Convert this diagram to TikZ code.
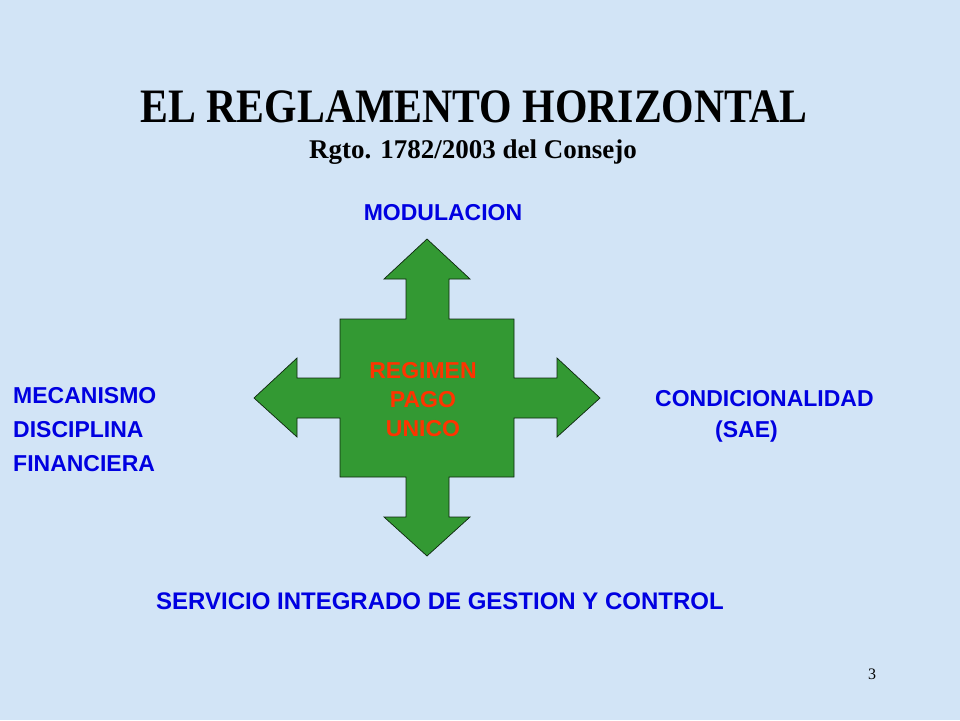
\documentclass[tikz,border=0pt]{standalone}
\usepackage{fontspec}
\setmainfont{Liberation Serif}
\setsansfont{Liberation Sans}
\definecolor{slidebg}{RGB}{210,228,246}
\definecolor{crossgreen}{RGB}{51,153,51}
\definecolor{pagored}{RGB}{255,51,0}
\definecolor{labelblue}{RGB}{0,0,225}
\begin{document}
\begin{tikzpicture}[x=1pt,y=-1pt]

        \fill[slidebg] (0,0) rectangle (960,720);
        \useasboundingbox (0,0) rectangle (960,720);

        % four way arrow
        \draw[fill=crossgreen, draw=black!75!crossgreen, line width=.7pt]
          (427,239) -- (470,279) -- (449,279) -- (449,319) -- (514,319) -- (514,378)
          -- (557,378) -- (557,358) -- (600,398) -- (557,437) -- (557,418) -- (514,418)
          -- (514,477) -- (449,477) -- (449,517) -- (470,517) -- (427,556) -- (384,517)
          -- (406,517) -- (406,477) -- (340,477) -- (340,418) -- (297,418) -- (297,437)
          -- (254,398) -- (297,358) -- (297,378) -- (340,378) -- (340,319) -- (406,319)
          -- (406,279) -- (384,279) -- cycle;

        \begin{scope}[every node/.style={inner sep=0pt, font=\bfseries}]
          \node (title) [anchor=base, font=\fontsize{48}{48}\selectfont\bfseries] at (474,122)
            {\scalebox{.87}[1]{EL REGLAMENTO HORIZONTAL}};
          \node (sub)   [anchor=base, font=\fontsize{27}{27}\selectfont\bfseries] at (473,158)
            {Rgto. 1782/2003 del Consejo};
          \node (page)  [anchor=base, font=\fontsize{16}{16}\selectfont] at (872,679) {3};
        \end{scope}

        \node (rpu) [anchor=north, inner sep=0pt, align=center, text=pagored,
          font=\sffamily\bfseries\fontsize{23}{29}\selectfont] at (423,362)
          {REGIMEN\\PAGO\\UNICO};

        \begin{scope}[every node/.style={inner sep=0pt, text=labelblue,
            font=\sffamily\bfseries\fontsize{23}{34}\selectfont}]
          \node (mod)  [anchor=base] at (443,220) {MODULACION};
          \node (mdf)  [anchor=north west, align=left] at (13,387)
            {MECANISMO\\DISCIPLINA\\FINANCIERA};
          \node (cond) [anchor=north west, align=left, font=\sffamily\bfseries\fontsize{23}{31}\selectfont]
            at (655,390) {CONDICIONALIDAD\\\hspace*{60pt}(SAE)};
          \node (sigc) [anchor=base, font=\sffamily\bfseries\fontsize{24}{24}\selectfont]
            at (440,609) {SERVICIO INTEGRADO DE GESTION Y CONTROL};
        \end{scope}

      \end{tikzpicture}
\end{document}
